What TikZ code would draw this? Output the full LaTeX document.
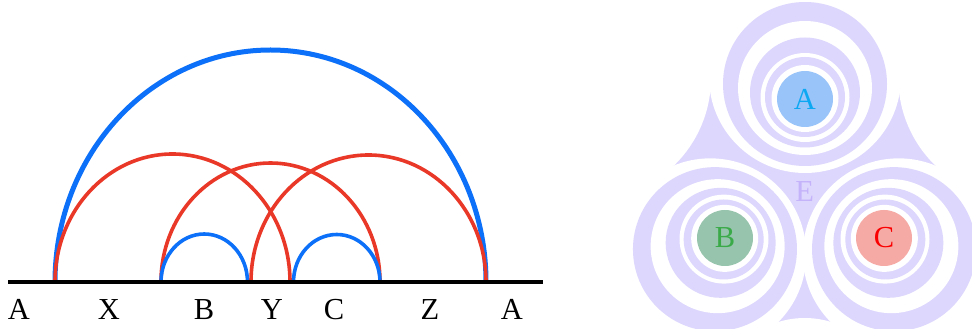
\documentclass[tikz,border=0pt]{standalone}
\usepackage{fontspec}
\setmainfont{Liberation Serif}
\usetikzlibrary{calc, positioning}
\definecolor{arcblue}{RGB}{12,112,248}
\definecolor{arcred}{RGB}{234,56,40}
\definecolor{ringlav}{RGB}{221,214,253}
\definecolor{labelE}{RGB}{196,178,250}
\definecolor{discA}{RGB}{153,196,250}
\definecolor{textA}{RGB}{12,168,242}
\definecolor{discB}{RGB}{150,196,172}
\definecolor{textB}{RGB}{58,170,72}
\definecolor{discC}{RGB}{246,170,165}
\definecolor{textC}{RGB}{250,0,0}

\begin{document}
\begin{tikzpicture}[
    x=1pt, y=1pt,
    every node/.style={font=\fontsize{30.5}{34}\selectfont},
    axis/.style={line width=4pt, black},
    bigarc/.style={line width=5pt, arcblue},
    redarc/.style={line width=3.6pt, arcred},
    smallarc/.style={line width=3.6pt, arcblue},
    lbl/.style={anchor=base, inner sep=0pt},
    disc/.style={circle, minimum size=56pt, inner sep=0pt}
]
    \useasboundingbox (0,0) rectangle (972,329);

    % right: three sets in the environment
    \begin{scope}
        \clip (600,0) rectangle (972,329);
        \coordinate (cA) at (805,230);
        \coordinate (cB) at (725,91);
        \coordinate (cC) at (884,91);
        \fill[ringlav] (706,255) -- (903,255) -- (950,159) -- (830,-16) -- (780,-16) -- (660,159) -- cycle;
        \fill[white] (589,251) circle (122);
        \fill[white] (1020.3,251) circle (122);
        \fill[white] (804.7,-78) circle (89);
        \foreach \c/\a in {cA/90, cB/228, cC/312} {
            \foreach \r/\o/\col in {96/22/white, 82/15/ringlav, 67/11/white, 55/6.5/ringlav,
                                    44.5/1.5/white, 40/2/ringlav, 33.5/0.5/white}
                \fill[\col] ($(\c)+(\a:\o)$) circle (\r);
        }
        \node[disc, fill=discA, text=textA] (setA) at (cA) {A};
        \node[disc, fill=discB, text=textB] (setB) at (cB) {B};
        \node[disc, fill=discC, text=textC] (setC) at (cC) {C};
        \node[text=labelE] (envE) at (804.7,137) {E};
    \end{scope}

    % left: the line and its arcs
    \coordinate (lineL) at (8,47);
    \coordinate (lineR) at (543,47);
    \coordinate (p0) at (55,47);
    \coordinate (p1) at (161,47);
    \coordinate (p2) at (251,47);
    \coordinate (p3) at (293.5,47);

    \draw[bigarc]   (p0) arc[start angle=180, end angle=0, x radius=215.5, y radius=232];
    \draw[redarc]   (p0) arc[start angle=180, end angle=0, x radius=117.5, y radius=128];
    \draw[redarc]   (p1) arc[start angle=180, end angle=0, x radius=109.5, y radius=119];
    \draw[redarc]   (p2) arc[start angle=180, end angle=0, x radius=117.5, y radius=127];
    \draw[smallarc] (p1) arc[start angle=180, end angle=0, x radius=43.25, y radius=48];
    \draw[smallarc] (p3) arc[start angle=180, end angle=0, x radius=43.25, y radius=47.5];
    \draw[axis] (lineL) -- (lineR);

    \node[lbl] (lblA)  at (19,9)  {A};
    \node[lbl] (lblX)  at (109,9) {X};
    \node[lbl] (lblB)  at (204,9) {B};
    \node[lbl] (lblY)  at (272,9) {Y};
    \node[lbl] (lblC)  at (334,9) {C};
    \node[lbl] (lblZ)  at (430,9) {Z};
    \node[lbl] (lblA2) at (512,9) {A};
\end{tikzpicture}
\end{document}
